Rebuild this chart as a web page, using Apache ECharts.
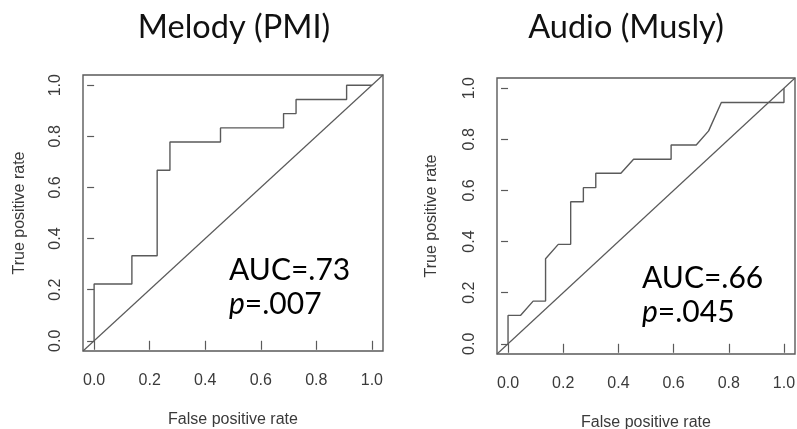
<!DOCTYPE html>
<html>
<head>
<meta charset="utf-8">
<script src="https://cdn.jsdelivr.net/npm/echarts@6/dist/echarts.min.js"></script>
<style>
  html, body { margin: 0; padding: 0; background: #fff; }
  #chart { width: 797px; height: 429px; }
</style>
</head>
<body>
<div id="chart"></div>
<script>
// ROC curves: false positive rate vs true positive rate
const melodyFpr = [0, 0, 0.136, 0.136, 0.227, 0.227, 0.273, 0.273, 0.455, 0.455, 0.682, 0.682, 0.727, 0.727, 0.909, 0.909, 1];
const melodyTpr = [0, 0.222, 0.222, 0.333, 0.333, 0.667, 0.667, 0.778, 0.778, 0.833, 0.833, 0.889, 0.889, 0.944, 0.944, 1, 1];

const audioFpr = [0, 0, 0.045, 0.091, 0.136, 0.136, 0.182, 0.227, 0.227, 0.273, 0.273, 0.318, 0.318, 0.409, 0.455, 0.591, 0.591, 0.682, 0.727, 0.773, 1, 1];
const audioTpr = [0, 0.111, 0.111, 0.167, 0.167, 0.333, 0.389, 0.389, 0.556, 0.556, 0.611, 0.611, 0.667, 0.667, 0.722, 0.722, 0.778, 0.778, 0.833, 0.944, 0.944, 1];

const panelTitles = ['Melody (PMI)', 'Audio (Musly)'];
const aucLabels = ['.73', '.66'];
const pLabels = ['.007', '.045'];
const tickValues = [0, 0.2, 0.4, 0.6, 0.8, 1.0];
const tickLabels = ['0.0', '0.2', '0.4', '0.6', '0.8', '1.0'];
const axisTitles = { x: 'False positive rate', y: 'True positive rate' };

// plot region padded 4% beyond the unit square on each side
const axisRange = [-0.04, 1.04];

const lineColor = '#5a5a5a';
const labelFont = 'Liberation Sans';
const headFont = 'Lato';

const grids = [
  { left: 83, top: 75, width: 300, height: 276 },
  { left: 497, top: 78, width: 298, height: 276 }
];

function pairs(xs, ys) { return xs.map((x, i) => [x, ys[i]]); }

function tickText(v) {
  const k = tickValues.findIndex(t => Math.abs(t - v) < 1e-6);
  return k >= 0 ? tickLabels[k] : '';
}

function xAxisFor(i) {
  return {
    type: 'value', gridIndex: i, min: axisRange[0], max: axisRange[1],
    splitLine: { show: false },
    axisLine: { show: false },
    axisTick: { show: true, length: 9, inside: false, customValues: tickValues,
      lineStyle: { color: lineColor, width: 1.2 } },
    axisLabel: { show: true, customValues: tickValues, margin: 21.5, formatter: tickText,
      color: '#3a3a3a', fontFamily: labelFont, fontSize: 16 },
    name: axisTitles.x, nameLocation: 'middle', nameGap: 61,
    nameTextStyle: { color: '#3a3a3a', fontFamily: labelFont, fontSize: 16 }
  };
}

function yAxisFor(i, nameGap) {
  return {
    type: 'value', gridIndex: i, min: axisRange[0], max: axisRange[1],
    splitLine: { show: false },
    axisLine: { show: false },
    axisTick: { show: true, length: 7, inside: false, customValues: tickValues,
      lineStyle: { color: lineColor, width: 1.2 } },
    axisLabel: { show: true, customValues: tickValues, margin: 19, rotate: 90, formatter: tickText,
      color: '#3a3a3a', fontFamily: labelFont, fontSize: 16 },
    name: axisTitles.y, nameLocation: 'middle', nameGap: nameGap, nameRotate: 90,
    nameTextStyle: { color: '#3a3a3a', fontFamily: labelFont, fontSize: 16 }
  };
}

function rocSeries(i, data) {
  return {
    type: 'line', xAxisIndex: i, yAxisIndex: i, data: data,
    showSymbol: false, symbol: 'none', silent: true, animation: false,
    lineStyle: { color: lineColor, width: 1.4 }
  };
}

function diagonalSeries(i) {
  return {
    type: 'line', xAxisIndex: i, yAxisIndex: i,
    data: [[axisRange[0], axisRange[0]], [axisRange[1], axisRange[1]]],
    showSymbol: false, symbol: 'none', silent: true, animation: false,
    lineStyle: { color: lineColor, width: 1.2 }
  };
}

const headStyle = { fontFamily: headFont, fontSize: 32.5, fill: '#111', textAlign: 'center', textVerticalAlign: 'middle' };
const statRich = {
  n: { fontFamily: headFont, fontSize: 30, color: '#111', lineHeight: 34 },
  i: { fontFamily: headFont, fontSize: 30, color: '#111', fontStyle: 'italic', lineHeight: 34 }
};

const chart = echarts.init(document.getElementById('chart'), null, { renderer: 'canvas' });
chart.setOption({
  backgroundColor: '#fff',
  animation: false,
  grid: grids.map(g => Object.assign({ show: true, borderColor: lineColor, borderWidth: 1.4,
    backgroundColor: 'transparent', containLabel: false, outerBoundsMode: 'none' }, g)),
  xAxis: [xAxisFor(0), xAxisFor(1)],
  yAxis: [yAxisFor(0, 55), yAxisFor(1, 57)],
  series: [
    diagonalSeries(0), rocSeries(0, pairs(melodyFpr, melodyTpr)),
    diagonalSeries(1), rocSeries(1, pairs(audioFpr, audioTpr))
  ],
  graphic: [
    { type: 'text', x: 234, y: 28, style: Object.assign({ text: panelTitles[0] }, headStyle) },
    { type: 'text', x: 626, y: 28, style: Object.assign({ text: panelTitles[1] }, headStyle) },
    { type: 'text', x: 229, y: 253, style: { text: '{n|AUC=' + aucLabels[0] + '}\n{i|p}{n|=' + pLabels[0] + '}', rich: statRich } },
    { type: 'text', x: 642, y: 261, style: { text: '{n|AUC=' + aucLabels[1] + '}\n{i|p}{n|=' + pLabels[1] + '}', rich: statRich } }
  ]
});
</script>
</body>
</html>
